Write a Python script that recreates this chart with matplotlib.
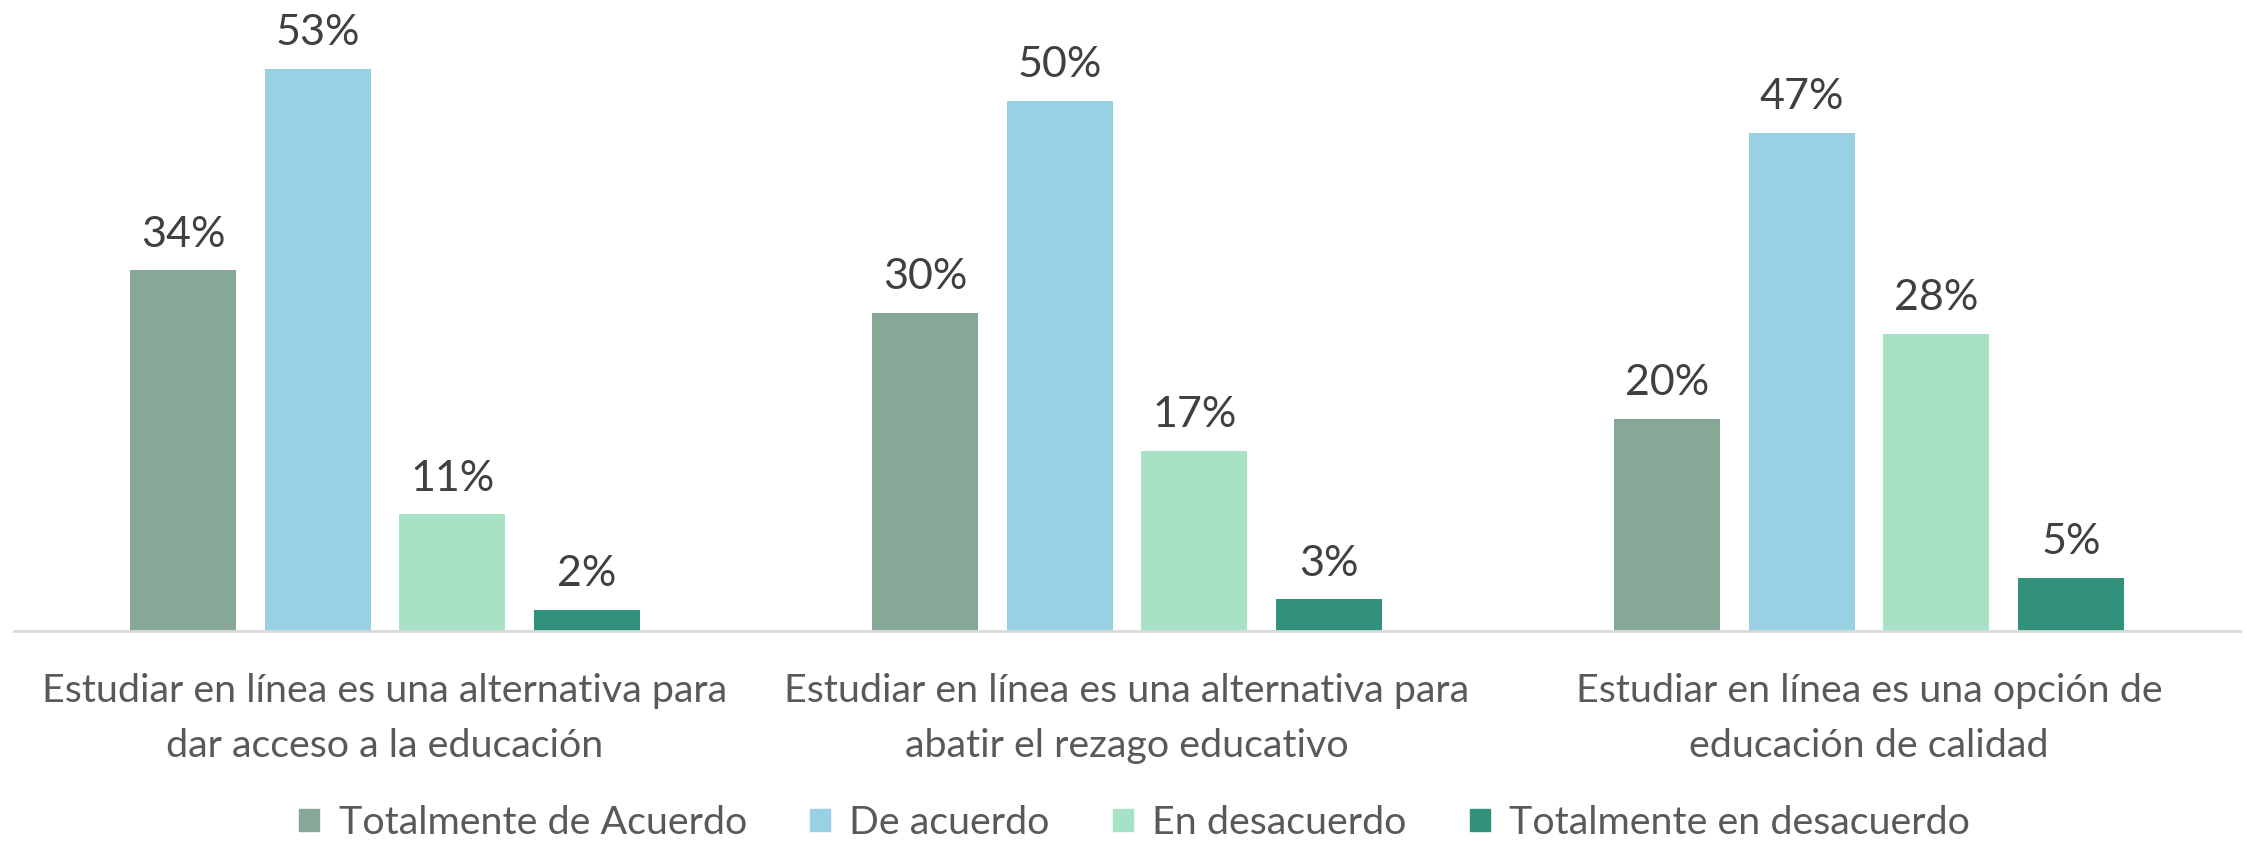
import numpy as np
import matplotlib
matplotlib.use("Agg")
import matplotlib.pyplot as plt
from matplotlib.patches import Patch

categories = ["Estudiar en línea es una alternativa para\ndar acceso a la educación",
              "Estudiar en línea es una alternativa para\nabatir el rezago educativo",
              "Estudiar en línea es una opción de\neducación de calidad"]
series = ["Totalmente de Acuerdo", "De acuerdo", "En desacuerdo", "Totalmente en desacuerdo"]
values = [
    [34, 30, 20],
    [53, 50, 47],
    [11, 17, 28],
    [2, 3, 5],
]
colors = ["#87A896", "#98D1E3", "#A8E2C6", "#31917A"]

plt.rcParams['font.family'] = ['Lato', 'DejaVu Sans']

fig = plt.figure(figsize=(22.47, 8.42), dpi=100)
ax = fig.add_axes([0.0062, 0.2506, 0.9907, 0.7494])

x = np.arange(len(categories))
width = 0.143
pitch = 0.1815
for i, (name, vals) in enumerate(zip(series, values)):
    pos = x + (i - 1.5) * pitch
    bars = ax.bar(pos, vals, width, color=colors[i], label=name)
    for b, v in zip(bars, vals):
        ax.annotate(f"{v}%", (b.get_x() + b.get_width() / 2, v), xytext=(0, 12),
                    textcoords="offset points", ha="center", va="bottom",
                    fontsize=31, color="#404040")

ax.set_xlim(-0.5, 2.5)
ax.set_ylim(0, 59.5)
ax.set_yticks([])
ax.set_xticks(x)
ax.set_xticklabels(categories, fontsize=28.4, color="#595959", linespacing=1.66)
ax.tick_params(axis="x", length=0, pad=30)
for s in ["top", "right", "left"]:
    ax.spines[s].set_visible(False)
ax.spines["bottom"].set_color("#D9D9D9")
ax.spines["bottom"].set_linewidth(2)

handles = [Patch(color=c, label=s) for c, s in zip(colors, series)]
leg = fig.legend(handles=handles, loc="lower center", bbox_to_anchor=(0.505, -0.022), ncol=4,
                 frameon=False, fontsize=28.4, handlelength=0.5, handleheight=0.5,
                 handletextpad=0.5, columnspacing=1.6, borderpad=0)
for t in leg.get_texts():
    t.set_color("#595959")

fig.savefig("out.png", dpi=100)
